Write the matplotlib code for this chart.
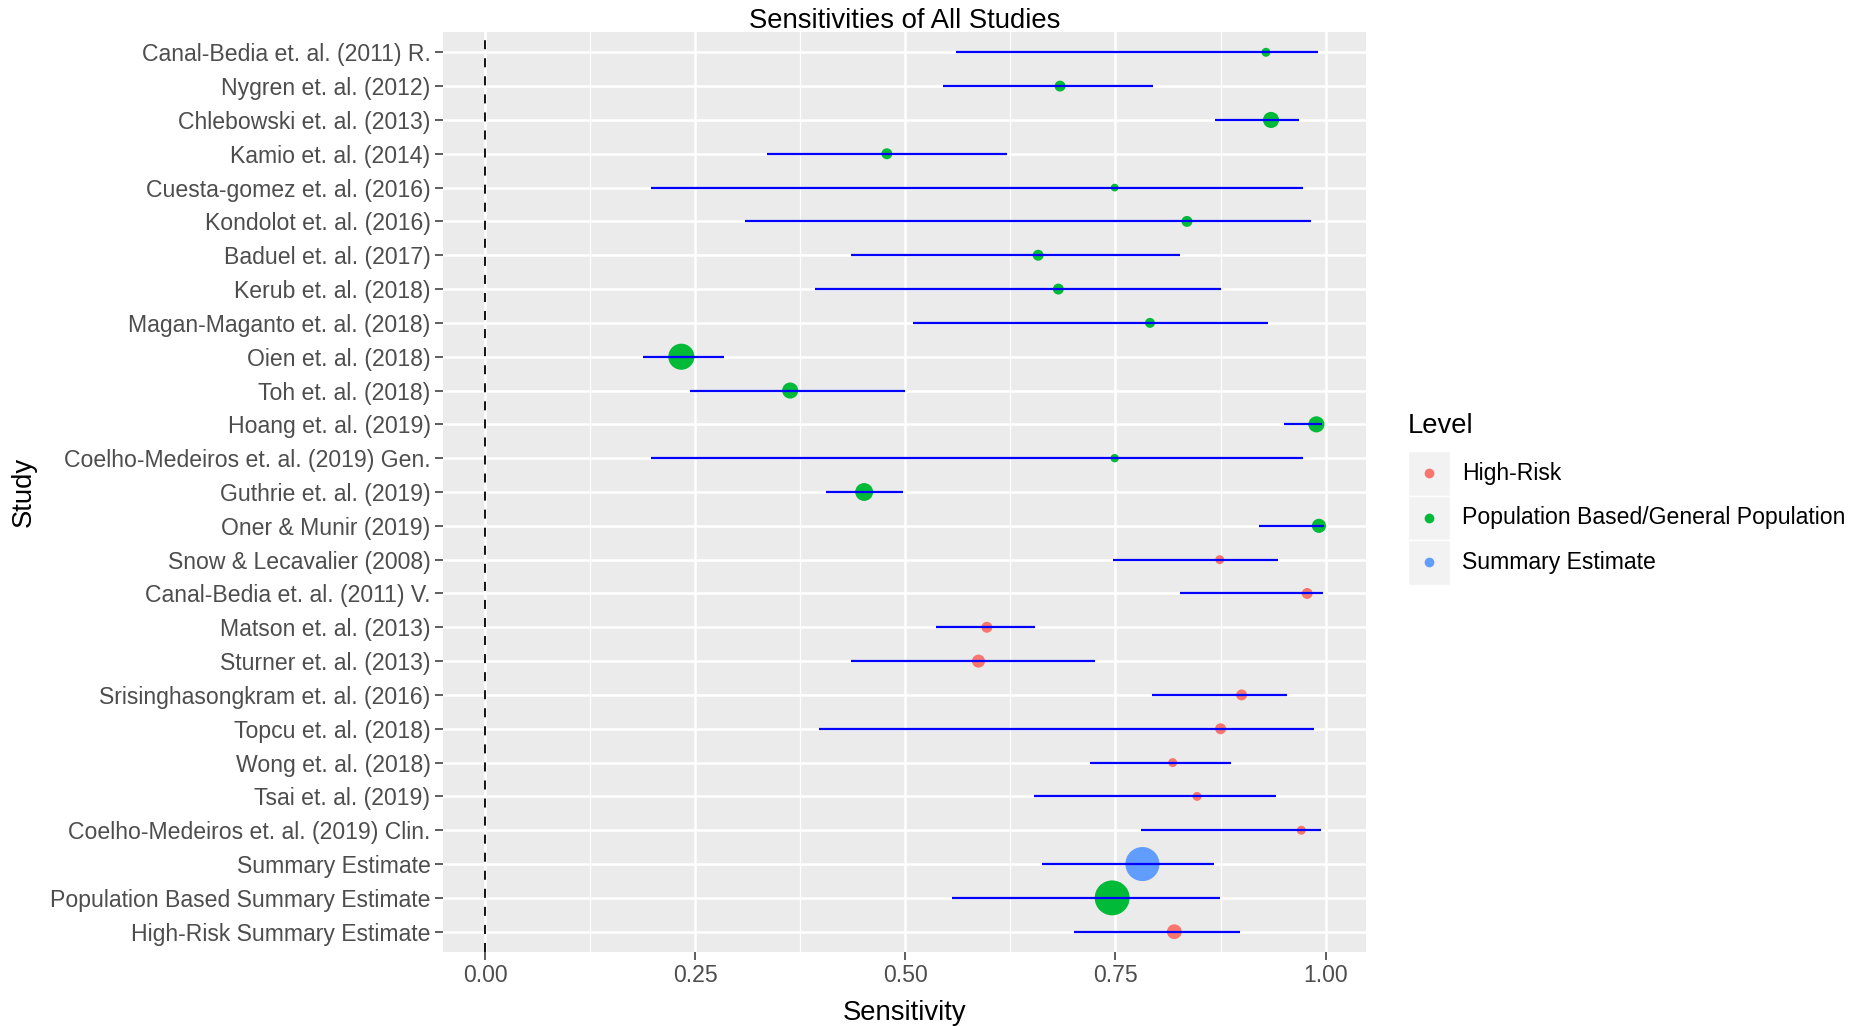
import matplotlib
matplotlib.use("Agg")
import matplotlib.pyplot as plt
from matplotlib.patches import Rectangle
from matplotlib.lines import Line2D
import numpy as np

plt.rcParams['font.family'] = ['Liberation Sans', 'DejaVu Sans']

studies = [
    "Canal-Bedia et. al. (2011) R.", "Nygren et. al. (2012)", "Chlebowski et. al. (2013)",
    "Kamio et. al. (2014)", "Cuesta-gomez et. al. (2016)", "Kondolot et. al. (2016)",
    "Baduel et. al. (2017)", "Kerub et. al. (2018)", "Magan-Maganto et. al. (2018)",
    "Oien et. al. (2018)", "Toh et. al. (2018)", "Hoang et. al. (2019)",
    "Coelho-Medeiros et. al. (2019) Gen.", "Guthrie et. al. (2019)", "Oner & Munir (2019)",
    "Snow & Lecavalier (2008)", "Canal-Bedia et. al. (2011) V.", "Matson et. al. (2013)",
    "Sturner et. al. (2013)", "Srisinghasongkram et. al. (2016)", "Topcu et. al. (2018)",
    "Wong et. al. (2018)", "Tsai et. al. (2019)", "Coelho-Medeiros et. al. (2019) Clin.",
    "Summary Estimate", "Population Based Summary Estimate", "High-Risk Summary Estimate",
]
level = (["Population Based/General Population"] * 15 + ["High-Risk"] * 9 +
         ["Summary Estimate", "Population Based/General Population", "High-Risk"])
sensitivity = [0.929, 0.684, 0.935, 0.478, 0.749, 0.835, 0.658, 0.682, 0.791,
               0.2335, 0.363, 0.989, 0.749, 0.451, 0.992, 0.874, 0.978, 0.597,
               0.587, 0.900, 0.875, 0.818, 0.847, 0.971, 0.782, 0.746, 0.820]
ci_low = [0.560, 0.545, 0.868, 0.336, 0.197, 0.309, 0.435, 0.392, 0.509,
          0.188, 0.244, 0.951, 0.197, 0.406, 0.921, 0.747, 0.827, 0.536,
          0.435, 0.794, 0.397, 0.720, 0.653, 0.780, 0.663, 0.556, 0.701]
ci_high = [0.991, 0.795, 0.968, 0.621, 0.973, 0.982, 0.827, 0.876, 0.932,
           0.284, 0.499, 0.996, 0.973, 0.497, 0.998, 0.943, 0.997, 0.654,
           0.726, 0.954, 0.986, 0.887, 0.941, 0.995, 0.867, 0.874, 0.898]
weight = [0.8, 1.2, 2.6, 1.2, 0.6, 1.2, 1.2, 1.2, 1.0, 6.8, 2.6, 2.6, 0.7, 3.2,
          2.0, 0.8, 1.2, 1.2, 1.7, 1.2, 1.2, 0.8, 0.8, 0.8, 11.6, 12.2, 2.2]
level_names = ["High-Risk", "Population Based/General Population", "Summary Estimate"]
level_colors = ["#F8766D", "#00BA38", "#619CFF"]
x_breaks = [0.0, 0.25, 0.5, 0.75, 1.0]
x_labels = ["0.00", "0.25", "0.50", "0.75", "1.00"]

W, H = 1871, 1026
fig = plt.figure(figsize=(W / 100, H / 100), dpi=100)
L, R, T, B = 443, 1366, 32, 952
ax = fig.add_axes([L / W, 1 - B / H, (R - L) / W, (B - T) / H])
ax.set_facecolor("#EBEBEB")
for s in ax.spines.values():
    s.set_visible(False)

n = len(studies)
ypos = np.arange(n)
ax.set_xlim(-0.05, 1.048)
ax.set_ylim(n - 1 + 0.6, -0.6)

# grid
minor = [(a + b) / 2 for a, b in zip(x_breaks[:-1], x_breaks[1:])]
for m in minor:
    ax.axvline(m, color="white", lw=0.9, zorder=0.5)
for m in x_breaks:
    ax.axvline(m, color="white", lw=1.8, zorder=0.6)
for y in ypos:
    ax.axhline(y, color="white", lw=1.8, zorder=0.6)

ax.axvline(0, color="black", lw=1.3, linestyle=(0, (5, 5)), zorder=1)

cmap = dict(zip(level_names, level_colors))
cols = [cmap[l] for l in level]
ax.scatter(sensitivity, ypos, s=np.array(weight) * 51.84, c=cols, zorder=2, linewidths=0)
ax.hlines(ypos, ci_low, ci_high, color="#0000FF", lw=1.6, zorder=3)

ax.set_yticks(ypos)
ax.set_yticklabels(studies)
ax.set_xticks(x_breaks)
ax.set_xticklabels(x_labels)
ax.tick_params(axis="both", length=5.5, width=1.1, color="#333333",
               labelsize=16.6, labelcolor="#4D4D4D", pad=3.5)

ax.set_xlabel("Sensitivity", fontsize=19.8, color="black", va="center")
ax.xaxis.set_label_coords(0.5, (B - 1013) / (B - T))
ax.set_ylabel("Study", fontsize=19.8, color="black", va="center")
ax.yaxis.set_label_coords((24 - L) / (R - L), 0.5)
ax.text(0.5, (B - 21) / (B - T), "Sensitivities of All Studies", transform=ax.transAxes,
        ha="center", va="center", fontsize=19.8)

# legend
def fx(px):
    return px / W

def fy(py):
    return 1 - py / H

fig.text(fx(1408), fy(426), "Level", fontsize=19.8, ha="left", va="center")
key_top, key_h, key_w, key_x = 451, 44.5, 42, 1408
for i, (name, c) in enumerate(zip(level_names, level_colors)):
    y0 = key_top + i * key_h
    fig.patches.append(Rectangle((fx(key_x), fy(y0 + key_h)), key_w / W, key_h / H,
                                 transform=fig.transFigure, facecolor="#F2F2F2",
                                 edgecolor="white", lw=1))
    fig.lines.append(Line2D([fx(key_x + key_w / 2)], [fy(y0 + key_h / 2)], marker="o",
                            markersize=7, color=c, markeredgewidth=0,
                            transform=fig.transFigure))
    fig.text(fx(1462), fy(y0 + key_h / 2), name, fontsize=16.6, ha="left", va="center")

fig.savefig("out.png", dpi=100, facecolor="white")
